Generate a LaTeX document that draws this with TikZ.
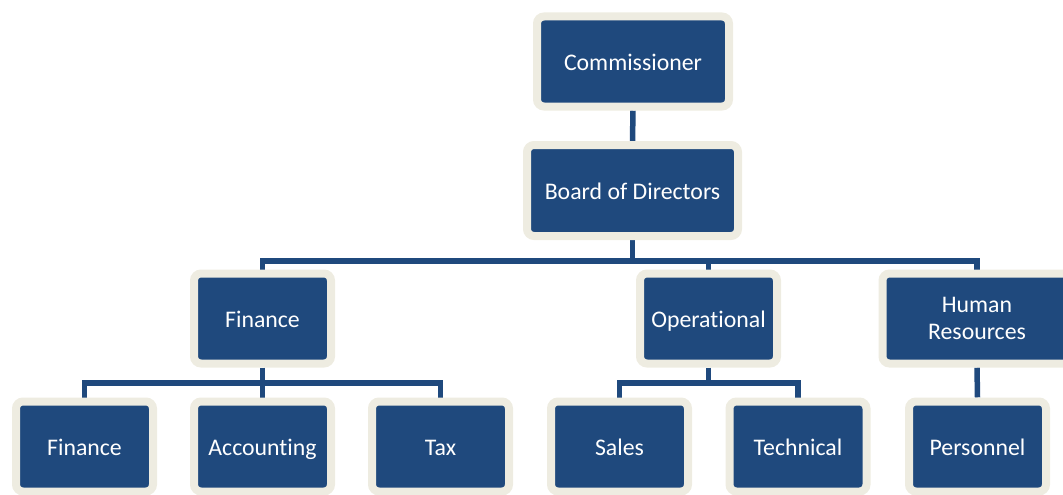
\documentclass[tikz,border=0pt]{standalone}
\usepackage{fontspec}
\setmainfont{Carlito}[Ligatures=NoCommon]
\usetikzlibrary{shadows}
\definecolor{boxblue}{HTML}{1F497D}
\definecolor{boxrim}{HTML}{EEECE1}
\pgfdeclarelayer{bg}
\pgfsetlayers{bg,main}
\tikzset{
  unit/.style={draw=boxrim, fill=boxblue, line width=8pt, rounded corners=7pt,
    text=white, align=center, font=\fontsize{23.8}{27}\selectfont,
    minimum width=137pt, minimum height=90pt, inner sep=0pt,
    drop shadow={opacity=0.25, shadow xshift=2pt, shadow yshift=-2pt}},
  oneline/.style={text height=17.5pt, text depth=0pt},
  link/.style={draw=boxblue, line width=5.5pt}
}
\begin{document}
\begin{tikzpicture}[x=1pt,y=1pt]
\useasboundingbox (0,0) rectangle (1063,-495);
\node[unit, oneline, minimum width=192pt] (comm) at (633,-61.5) {Commissioner};
\node[unit, oneline, minimum width=211pt, minimum height=91pt] (board) at (632.5,-190.5) {Board of Directors};
\node[unit, oneline] (fin) at (262.5,-318.5) {Finance};
\node[unit, oneline] (ops) at (708.5,-318.5) {Operational};
\node[unit, minimum width=189pt] (hr) at (977,-318.5) {Human\\Resources};
\node[unit, oneline] (fin2) at (84.5,-446.5) {Finance};
\node[unit, oneline] (acc) at (262.5,-446.5) {Accounting};
\node[unit, oneline] (tax) at (440.5,-446.5) {Tax};
\node[unit, oneline] (sales) at (619.5,-446.5) {Sales};
\node[unit, oneline] (tech) at (798,-446.5) {Technical};
\node[unit, oneline] (pers) at (977.5,-446.5) {Personnel};
\coordinate (busA) at (0,-261);
\coordinate (busB) at (0,-383);
\begin{pgfonlayer}{bg}
\draw[link] (comm.south) -- (board.north);
\draw[link] (board.south) -- (board.south |- busA) -| (fin.north);
\draw[link] (board.south) -- (board.south |- busA) -| (ops.north);
\draw[link] (board.south) -- (board.south |- busA) -| (hr.north);
\draw[link] (fin.south) -- (fin.south |- busB) -| (fin2.north);
\draw[link] (fin.south) -- (acc.north);
\draw[link] (fin.south) -- (fin.south |- busB) -| (tax.north);
\draw[link] (ops.south) -- (ops.south |- busB) -| (sales.north);
\draw[link] (ops.south) -- (ops.south |- busB) -| (tech.north);
\draw[link] (hr.south) -- (pers.north);
\end{pgfonlayer}
\end{tikzpicture}
\end{document}
